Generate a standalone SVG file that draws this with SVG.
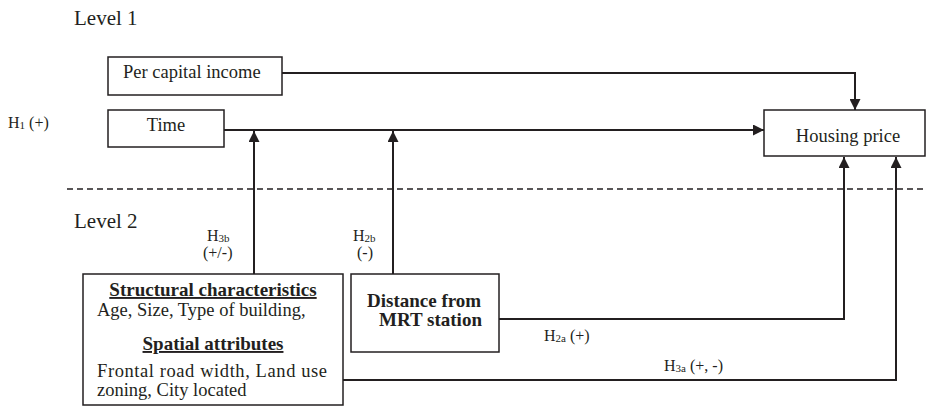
<svg xmlns="http://www.w3.org/2000/svg" width="928" height="407" viewBox="0 0 928 407">
<style>
text{font-family:"Liberation Serif","Times New Roman",serif;fill:#231f20;}
.box{fill:#fff;stroke:#231f20;stroke-width:1.5;}
.lv{font-size:21px;}
.nt{font-size:18.5px;}
.bt{font-size:19px;font-weight:bold;}
.lb{font-size:16px;}
.sub{font-size:11px;}
.ln{fill:none;stroke:#231f20;stroke-width:2;}
</style>
<defs>
<marker id="ah" viewBox="0 0 10 10" refX="10" refY="5" markerWidth="11" markerHeight="11" markerUnits="userSpaceOnUse" orient="auto">
<path d="M0,0 L10,5 L0,10 z" fill="#231f20"/>
</marker>
</defs>
<rect width="928" height="407" fill="#fff"/>
<text class="lv" x="74" y="25">Level 1</text>
<text class="lv" x="74" y="228">Level 2</text>
<line x1="67" y1="189" x2="925" y2="189" stroke="#231f20" stroke-width="1.3" stroke-dasharray="6,4"/>
<text class="lb" x="8" y="128">H<tspan class="sub" dy="1">1</tspan><tspan dy="-1"> (+)</tspan></text>
<g id="connectors">
<polyline class="ln" points="282,73 855,73 855,110" marker-end="url(#ah)"/>
<line class="ln" x1="224" y1="130" x2="764" y2="130" marker-end="url(#ah)"/>
<line class="ln" x1="254" y1="274" x2="254" y2="131" marker-end="url(#ah)"/>
<line class="ln" x1="393" y1="274" x2="393" y2="131" marker-end="url(#ah)"/>
<polyline class="ln" points="499,319 844,319 844,157" marker-end="url(#ah)"/>
<polyline class="ln" points="343,380 896,380 896,157" marker-end="url(#ah)"/>
<text class="lb" x="207" y="241">H<tspan class="sub" dy="1">3b</tspan></text>
<text class="lb" x="203" y="258">(+/-)</text>
<text class="lb" x="353" y="241">H<tspan class="sub" dy="1">2b</tspan></text>
<text class="lb" x="357" y="258">(-)</text>
<text class="lb" x="544" y="341">H<tspan class="sub" dy="1">2a</tspan><tspan dy="-1"> (+)</tspan></text>
<text class="lb" x="664" y="371">H<tspan class="sub" dy="1">3a</tspan><tspan dy="-1"> (+, -)</tspan></text>
</g>
<g id="income">
<rect class="box" x="108" y="57" width="174" height="38"/>
<text class="nt" x="123" y="78">Per capital income</text>
</g>
<g id="time">
<rect class="box" x="108" y="110" width="116" height="37"/>
<text class="nt" x="166" y="131" text-anchor="middle">Time</text>
</g>
<g id="housing">
<rect class="box" x="764" y="110" width="161" height="46"/>
<text class="nt" x="848" y="142" text-anchor="middle">Housing price</text>
</g>
<g id="structural">
<rect class="box" x="83" y="274" width="260" height="131"/>
<text class="bt" x="213" y="296" text-anchor="middle" text-decoration="underline">Structural characteristics</text>
<text class="nt" x="97" y="316">Age, Size, Type of building,</text>
<text class="bt" x="213" y="350" text-anchor="middle" text-decoration="underline">Spatial attributes</text>
<text class="nt" x="97" y="377" textLength="230" lengthAdjust="spacing">Frontal road width, Land use</text>
<text class="nt" x="97" y="396">zoning, City located</text>
</g>
<g id="distance">
<rect class="box" x="351" y="274" width="148" height="78"/>
<text class="bt" x="367" y="307">Distance from</text>
<text class="bt" x="379" y="326">MRT station</text>
</g>
</svg>
